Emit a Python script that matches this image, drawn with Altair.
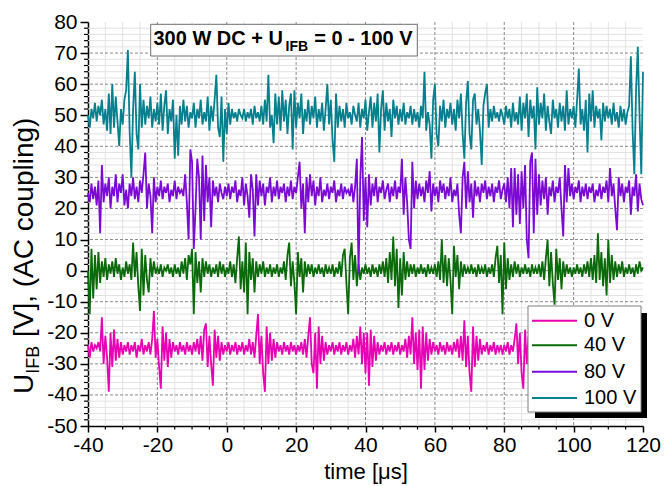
import altair as alt
import pandas as pd
import numpy as np

FONT = "Liberation Sans, Arial, Helvetica, sans-serif"

# time axis of the scope samples (µs), 0.5 µs step
T_START, T_STEP = -40.0, 0.5

# 100 V trace (V)
u_100 = [
    50, 46, 52, 49, 54, 48, 53, 50, 55, 47, 52, 45, 57, 44, 60, 46, 56, 48, 40, 52,
    47, 55, 58, 71, 45, 30, 52, 64, 44, 39, 60, 46, 55, 47, 53, 49, 56, 46, 52, 48,
    54, 47, 57, 45, 53, 58, 44, 52, 48, 55, 36, 50, 37, 53, 47, 55, 48, 53, 46, 51,
    49, 54, 46, 52, 49, 55, 47, 51, 48, 56, 45, 53, 48, 55, 63, 46, 43, 56, 35, 52,
    44, 54, 47, 52, 49, 51, 48, 52, 50, 49, 52, 48, 51, 49, 52, 47, 53, 49, 51, 48,
    53, 47, 55, 48, 63, 46, 50, 41, 57, 47, 56, 45, 58, 48, 55, 44, 53, 57, 39, 58,
    46, 54, 49, 57, 44, 52, 48, 55, 47, 53, 49, 56, 46, 52, 48, 54, 45, 52, 60, 47,
    55, 42, 35, 57, 46, 53, 48, 52, 46, 54, 49, 51, 47, 53, 50, 48, 54, 46, 52, 49,
    55, 45, 51, 56, 46, 54, 48, 57, 38, 52, 58, 45, 54, 48, 52, 43, 55, 49, 53, 47,
    52, 48, 54, 47, 51, 49, 53, 47, 52, 48, 51, 46, 53, 49, 64, 45, 51, 47, 36, 55,
    60, 44, 40, 53, 48, 55, 46, 52, 49, 54, 47, 52, 45, 55, 49, 57, 44, 36, 54, 61,
    44, 39, 55, 57, 47, 52, 45, 34, 53, 57, 60, 46, 52, 48, 53, 49, 51, 48, 52, 50,
    47, 53, 49, 52, 46, 54, 48, 51, 47, 56, 45, 54, 49, 57, 43, 55, 49, 53, 39, 59,
    47, 54, 49, 57, 45, 53, 48, 44, 55, 49, 52, 46, 54, 48, 53, 45, 58, 47, 52, 49,
    53, 46, 55, 65, 47, 52, 45, 55, 38, 57, 48, 58, 46, 53, 49, 52, 42, 54, 48, 53,
    49, 52, 47, 54, 48, 51, 46, 53, 48, 52, 47, 51, 53, 69, 45, 31, 58, 72, 50, 31,
    64,
]

# 80 V trace (V)
u_80 = [
    25, 22, 28, 23, 27, 21, 29, 12, 34, 22, 28, 24, 30, 20, 27, 24, 31, 22, 28, 25,
    31, 21, 26, 20, 28, 24, 30, 23, 27, 22, 29, 25, 31, 38, 20, 28, 24, 12, 30, 22,
    27, 24, 29, 23, 27, 25, 28, 22, 26, 24, 29, 23, 27, 25, 26, 24, 31, 22, 10, 39,
    35, 7, 20, 36, 30, 10, 37, 16, 34, 22, 30, 14, 29, 24, 27, 22, 28, 25, 23, 27,
    24, 28, 23, 27, 25, 29, 22, 26, 24, 30, 21, 28, 24, 17, 31, 26, 11, 31, 21, 29,
    24, 28, 21, 27, 25, 30, 22, 27, 24, 29, 23, 27, 25, 28, 22, 27, 24, 29, 23, 27,
    25, 30, 35, 20, 28, 12, 30, 22, 31, 24, 29, 21, 27, 24, 30, 22, 26, 24, 28, 23,
    27, 25, 29, 22, 26, 24, 28, 23, 27, 25, 26, 24, 28, 22, 27, 36, -1, 30, 43, 16,
    30, 14, 31, 21, 28, 24, 30, 22, 27, 25, 29, 23, 26, 28, 22, 27, 24, 29, 23, 27,
    25, 36, 18, 30, 22, 10, 7, 35, 20, 29, 23, 28, 24, 27, 22, 29, 25, 32, 19, 28,
    24, 27, 22, 29, 25, 28, 23, 27, 24, 30, 22, 26, 24, 28, 18, 12, 30, 35, 20, 32,
    22, 28, 17, 29, 24, 27, 22, 28, 25, 29, 23, 27, 24, 28, 22, 27, 25, 29, 23, 26,
    28, 22, 30, 20, 33, 14, 33, 18, 31, 15, 32, 20, 34, 10, 4, 35, 38, 12, 36, 18,
    31, 21, 29, 23, 30, 18, 27, 24, 29, 22, 27, 25, 30, 20, 11, 34, 22, 33, 24, 28,
    23, 27, 25, 29, 22, 27, 24, 28, 23, 27, 25, 28, 22, 26, 24, 28, 23, 27, 25, 29,
    22, 33, 24, 28, 20, 13, 30, 24, 28, 22, 27, 25, 29, 18, 27, 24, 31, 19, 28, 23,
    21,
]

# 40 V trace (V)
u_40 = [
    0, -14, 7, -9, 5, -6, 6, -4, 3, -2, 4, -3, 2, -1, 3, -2, 4, -1, 2, -3,
    1, -2, 3, -1, 2, -3, 9, -2, 6, -5, -13, 7, -8, 5, -3, -7, 4, -2, 3, -1,
    1, -1, 2, -2, 1, 0, 2, -1, 1, -2, 2, -1, 1, -2, 3, -1, 4, -3, 5, 2,
    7, -14, 6, -4, 3, -7, 4, -2, 3, -1, 2, -2, 1, -1, 2, -2, 3, -1, 2, -2,
    1, -1, 3, -2, 2, -4, 4, 11, -6, 3, -7, 9, -14, 6, -3, 4, -7, 3, -2, 2,
    -1, 3, -2, 1, -1, 2, -2, 1, -1, 2, -2, 1, -1, 3, -3, 5, 9, -5, 3, -4,
    -14, 6, -2, 4, -7, 3, -2, 2, -1, 2, -2, 1, -1, 2, -1, 1, -2, 2, -1, 1,
    -1, 2, -2, 1, -1, 3, -2, 5, 7, -4, -14, 4, 9, -3, 5, -5, 2, -3, 1, -1,
    2, -1, 1, -2, 2, -1, 1, -2, 2, -1, 3, -2, 4, -4, 6, -3, 11, -5, 7, -12,
    4, -8, 6, -3, 3, -2, 2, -1, 2, -2, 1, -1, 2, -1, 1, -2, 2, -1, 1, -1,
    2, -2, 3, -3, 10, -4, 5, -5, 4, -3, -14, 8, -2, 5, -6, 3, -2, 2, -1, 1,
    -1, 2, -1, 1, -2, 2, -1, 1, -1, 2, -2, 1, -1, 2, -2, 4, 8, -4, 5, -14,
    9, -6, 4, -3, 2, -2, 3, -1, 2, -2, 1, -1, 2, -1, 1, -2, 2, -1, 1, -1,
    2, -2, 3, -3, 4, 10, -5, 6, -4, -11, 7, -3, 4, -6, 3, -2, 2, -1, 1, -2,
    1, -1, 2, -1, 1, -2, 2, -1, 3, -2, 4, -3, 5, -4, 12, -3, 6, -5, 4, -8,
    10, -4, 5, -3, 3, -2, 2, -1, 3, -2, 1, -1, 2, -1, 1, -2, 2, -1, 3, 0,
    1,
]

# 0 V trace (V)
u_0 = [
    -24, -28, -23, -26, -24, -25, -23, -26, -15, -30, -21, -28, -39, -20, -31, -19, -29, -22, -28, -23,
    -27, -24, -26, -23, -27, -24, -26, -23, -28, -24, -26, -22, -27, -24, -26, -23, -27, -22, -13, -28,
    -22, -31, -38, -18, -29, -20, -31, -22, -28, -23, -26, -24, -27, -23, -26, -24, -27, -23, -26, -24,
    -27, -23, -26, -22, -27, -21, -29, -19, -17, -31, -21, -30, -37, -19, -28, -21, -29, -23, -27, -24,
    -26, -23, -27, -24, -26, -23, -27, -24, -26, -23, -27, -24, -26, -22, -27, -23, -28, -21, -14, -30,
    -21, -33, -39, -18, -30, -20, -29, -22, -28, -23, -26, -24, -27, -23, -26, -24, -27, -23, -26, -24,
    -27, -24, -26, -23, -27, -22, -28, -21, -15, -30, -33, -20, -38, -18, -30, -21, -29, -23, -27, -24,
    -26, -23, -27, -24, -26, -23, -27, -24, -26, -23, -27, -24, -26, -22, -28, -21, -27, -18, -30, -20,
    -33, -20, -37, -19, -31, -21, -29, -23, -27, -24, -26, -23, -27, -24, -26, -23, -27, -24, -26, -23,
    -27, -24, -26, -22, -28, -21, -27, -15, -30, -20, -32, -19, -38, -18, -32, -20, -29, -22, -27, -23,
    -26, -24, -27, -23, -26, -24, -27, -23, -26, -24, -27, -23, -26, -22, -28, -21, -29, -16, -31, -21,
    -33, -39, -18, -31, -21, -29, -22, -27, -24, -26, -23, -27, -24, -26, -23, -27, -24, -26, -24, -27,
    -24, -26, -23, -27, -24, -26, -22, -17, -30, -20, -33, -38, -19, -30, -21, -28, -23, -27, -24, -26,
    -24, -26, -23, -27, -24, -26, -23, -27, -24, -26, -22, -28, -21, -17, -31, -20, -36, -19, -29, -22,
    -27, -24, -26, -23, -27, -24, -26, -23, -27, -24, -26, -22, -28, -21, -16, -30, -20, -37, -19, -28,
    -23, -27, -24, -26, -23, -27, -24, -26, -23, -27, -24, -26, -23, -27, -24, -26, -22, -28, -24, -26,
    -25,
]

series_labels = ["0 V", "40 V", "80 V", "100 V"]
series_colors = ["#e800b4", "#0b6b0b", "#7b0ad4", "#06808e"]

x_major = [-40, -20, 0, 20, 40, 60, 80, 100, 120]
y_major = [-50, -40, -30, -20, -10, 0, 10, 20, 30, 40, 50, 60, 70, 80]
x_grid_major = [-20, 0, 20, 40, 60, 80, 100]
y_grid_major = [-40, -30, -20, -10, 0, 10, 20, 30, 40, 50, 60, 70]
x_minor = [v for v in range(-40, 121, 5) if v % 20 != 0]
y_minor = [v for v in range(-50, 81, 2) if v % 10 != 0]

frames = []
for lab, vals in zip(series_labels, [u_0, u_40, u_80, u_100]):
    assert len(vals) == 321, (lab, len(vals))
    frames.append(pd.DataFrame({
        "t": T_START + T_STEP * np.arange(len(vals)),
        "u": vals,
        "series": lab,
    }))
df = pd.concat(frames, ignore_index=True)

W, H = 555, 404
xscale = alt.Scale(domain=[-40, 120], nice=False, zero=False)
yscale = alt.Scale(domain=[-50, 80], nice=False, zero=False)

LABEL_EXPR = "'' + datum.value"

xaxis = alt.Axis(values=x_major, grid=False, domainColor="black", domainWidth=1.5,
                 tickColor="black", tickSize=6, tickWidth=1.5,
                 labelFontSize=21, labelFont=FONT, labelColor="black", labelPadding=2,
                 labelFlush=False, labelOverlap=False, labelExpr=LABEL_EXPR,
                 title="time [μs]", titleFontSize=22, titleFont=FONT,
                 titleFontWeight="normal", titleColor="black", titlePadding=6)
yaxis = alt.Axis(values=y_major, grid=False, domainColor="black", domainWidth=1.5,
                 tickColor="black", tickSize=8, tickWidth=1.5,
                 labelFontSize=21, labelFont=FONT, labelColor="black", labelPadding=3,
                 labelFlush=False, labelOverlap=False, labelExpr=LABEL_EXPR,
                 title=None)

def X(field):
    return alt.X(field, scale=xscale, axis=xaxis, title="time [μs]")

def Y(field):
    return alt.Y(field, scale=yscale, axis=yaxis, title=None)

def rules_x(vals, color, dash=None, width=1.0):
    kw = dict(color=color, strokeWidth=width)
    if dash:
        kw["strokeDash"] = dash
    return alt.Chart(pd.DataFrame({"v": vals})).mark_rule(**kw).encode(x=X("v:Q"))

def rules_y(vals, color, dash=None, width=1.0):
    kw = dict(color=color, strokeWidth=width)
    if dash:
        kw["strokeDash"] = dash
    return alt.Chart(pd.DataFrame({"v": vals})).mark_rule(**kw).encode(y=Y("v:Q"))

minor_gx = rules_x(x_minor, "#e2e2e2")
minor_gy = rules_y(y_minor, "#e2e2e2")
major_gx = rules_x(x_grid_major, "#8a8a8a", dash=[3, 2])
major_gy = rules_y(y_grid_major, "#8a8a8a", dash=[3, 2])

lines = alt.Chart(df).mark_line(strokeWidth=1.8).encode(
    x=X("t:Q"),
    y=Y("u:Q"),
    color=alt.Color("series:N", sort=series_labels,
                    scale=alt.Scale(domain=series_labels, range=series_colors),
                    legend=None),
    detail="series:N",
)

tick_x = alt.Chart(pd.DataFrame({"v": x_minor})).mark_rule(color="black", strokeWidth=1.2).encode(
    x=X("v:Q"), y=alt.value(H), y2=alt.value(H + 3.5))
tick_y = alt.Chart(pd.DataFrame({"v": y_minor})).mark_rule(color="black", strokeWidth=1.2).encode(
    y=Y("v:Q"), x=alt.value(0), x2=alt.value(-4))

one = pd.DataFrame({"a": [0]})

def box(x1, x2, y1, y2, fill, stroke=None):
    kw = dict(fill=fill)
    if stroke:
        kw.update(stroke=stroke, strokeWidth=1)
    return alt.Chart(one).mark_rect(**kw).encode(
        x=alt.value(x1), x2=alt.value(x2), y=alt.value(y1), y2=alt.value(y2))

def txt(s, x, y, size, weight="normal", angle=0, baseline="alphabetic"):
    return alt.Chart(pd.DataFrame({"s": [s]})).mark_text(
        align="left", baseline=baseline, font=FONT, fontSize=size,
        fontWeight=weight, color="black", angle=angle).encode(
        text="s:N", x=alt.value(x), y=alt.value(y))

# in-plot title box
title_layers = [
    box(62.7, 329.3, 2.3, 34, "white", "#6e6e6e"),
    txt("300 W DC + U", 65.5, 23, 20, "bold"),
    txt("IFB", 197.5, 28.5, 14, "bold"),
    txt("= 0 - 100 V", 226.2, 23, 20, "bold"),
]

# y-axis title with subscript
YT = 28
ystart = 372
ytitle = [
    txt("U", -55, ystart, YT, angle=270),
    txt("IFB", -49, ystart - 0.722 * YT, 18, angle=270),
    txt("[V], (AC coupling)", -55, ystart - 0.722 * YT - 1.611 * 18 - 0.278 * YT, YT, angle=270),
]

# legend (box with shadow)
LX = 440
leg_rows = [298.7, 323.3, 349.7, 376.0]
legend_layers = [
    box(LX + 7, LX + 119, 291, 396, "black"),
    box(LX, LX + 113, 284, 390, "white", "#808080"),
]
for lab, col, ry in zip(series_labels, series_colors, leg_rows):
    legend_layers.append(
        alt.Chart(pd.DataFrame({"s": [lab]})).mark_rule(color=col, strokeWidth=2).encode(
            x=alt.value(LX + 4), x2=alt.value(LX + 49), y=alt.value(ry)))
    legend_layers.append(txt(lab, LX + 56, ry, 20, baseline="middle"))

chart = alt.layer(
    minor_gx, minor_gy, major_gx, major_gy, lines, tick_x, tick_y,
    *title_layers, *ytitle, *legend_layers,
).properties(
    width=W, height=H, autosize="none",
    padding={"left": 80, "top": 14, "right": 18, "bottom": 62},
    background="white",
).configure_view(stroke=None)

chart.save("out.html", embed_options={"renderer": "svg", "actions": False})
